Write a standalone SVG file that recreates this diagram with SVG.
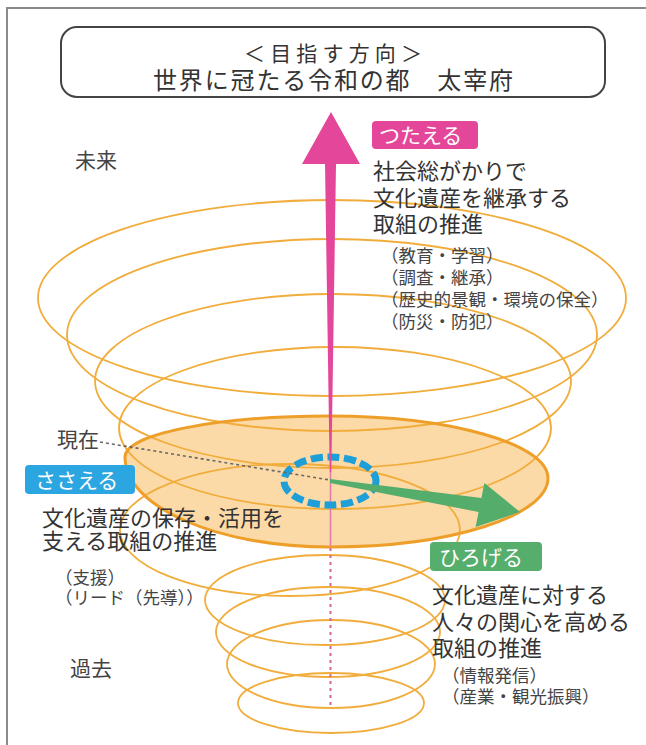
<svg xmlns="http://www.w3.org/2000/svg" width="646" height="745" viewBox="0 0 646 745">
<style>
.bg{fill:#ffffff}
.frame{fill:none;stroke:#8a8a8a;stroke-width:2}
.sp{fill:none;stroke:#f1ad3c;stroke-width:1.8}
.discfill{fill:#fcdaa8;stroke:none}
.discline{fill:none;stroke:#ee9f2a;stroke-width:3}
.t{font-family:"Noto Sans CJK JP","Noto Sans CJK SC",sans-serif;fill:#333}
.main{font-size:22px}
.sub{font-size:17.5px;fill:#444}
.era{font-family:"Noto Sans CJK JP",sans-serif;font-size:21px;fill:#444}
.lab{font-family:"Noto Sans CJK JP",sans-serif;font-size:21px;fill:#ffffff}
</style>
<rect class="bg" x="0" y="0" width="646" height="745"/>
<path class="frame" d="M7,745 L7,8 L646,8"/>

<g id="title">
  <rect x="61" y="27" width="544" height="70" rx="16" ry="16" fill="#fff" stroke="#444" stroke-width="2"/>
  <text class="t" x="333" y="61" font-size="21" text-anchor="middle" textLength="178" lengthAdjust="spacing">＜目指す方向＞</text>
  <text class="t" x="333" y="89" font-size="24" text-anchor="middle" textLength="360" lengthAdjust="spacing">世界に冠たる令和の都　太宰府</text>
</g>

<g id="spiral">
  <path id="disc-fill" class="discfill" d="M125,457 C125,434 217,416 330,416 C450,416 548,444 548,478 C548,516 450,547 330,547 C217,547 125,507 125,457 Z"/>
  <ellipse class="sp" cx="332" cy="298" rx="294" ry="98"/>
  <ellipse class="sp" cx="332" cy="335" rx="265" ry="96"/>
  <ellipse class="sp" cx="333" cy="381" rx="238" ry="87"/>
  <ellipse class="sp" cx="335" cy="428" rx="216" ry="81"/>
  <ellipse class="sp" cx="290" cy="530" rx="170" ry="66"/>
  <ellipse class="sp" cx="325" cy="600" rx="120" ry="45"/>
  <ellipse class="sp" cx="328" cy="632" rx="112" ry="45"/>
  <ellipse class="sp" cx="331" cy="664" rx="104" ry="44"/>
  <ellipse class="sp" cx="331" cy="703" rx="93" ry="30"/>
  <path id="disc-rim" class="discline" d="M125,457 C125,434 217,416 330,416 C450,416 548,444 548,478 C548,516 450,547 330,547 C217,547 125,507 125,457 Z"/>
</g>

<g id="connectors">
  <line x1="330.5" y1="472" x2="330.5" y2="546" stroke="#e07aa9" stroke-width="1.5"/>
  <line x1="330.5" y1="548" x2="330.5" y2="706" stroke="#d5649e" stroke-width="2" stroke-dasharray="3 4"/>
  <ellipse id="now-ring" cx="330" cy="481" rx="46" ry="24" fill="none" stroke="#1e9fd8" stroke-width="7" stroke-dasharray="12 4.6"/>
  <line x1="100" y1="442" x2="330" y2="480" stroke="#666" stroke-width="1.6" stroke-dasharray="3 3"/>
  <path id="arrow-up" d="M331,112 L360,164 L336,164 L331.3,472 L329.7,472 L325,164 L302,164 Z" fill="#e4479a"/>
  <path id="arrow-right" d="M330,479 L481.4,498 L484.4,483 L520,512 L475.6,527 L478.6,512 L330,483 Z" fill="#55ad6b"/>
</g>

<g id="era-future"><text class="era" x="75" y="168">未来</text></g>
<g id="era-now"><text class="era" x="57" y="447" font-size="19">現在</text></g>
<g id="era-past"><text class="era" x="70" y="676">過去</text></g>

<g id="tsutaeru">
  <rect x="372" y="121" width="106" height="28" rx="4" fill="#e4479a"/>
  <text class="lab" x="379" y="143">つたえる</text>
  <text class="t main" x="373" y="179">社会総がかりで</text>
  <text class="t main" x="373" y="206">文化遺産を継承する</text>
  <text class="t main" x="373" y="232">取組の推進</text>
  <text class="t sub" x="381" y="262">（教育・学習）</text>
  <text class="t sub" x="381" y="284">（調査・継承）</text>
  <text class="t sub" x="381" y="306" font-size="18.5">（歴史的景観・環境の保全）</text>
  <text class="t sub" x="381" y="328">（防災・防犯）</text>
</g>

<g id="sasaeru">
  <rect x="25" y="465" width="110" height="29" rx="4" fill="#2ca6e0"/>
  <text class="lab" x="35" y="488" font-size="22">ささえる</text>
  <text class="t main" x="42" y="526">文化遺産の保存・活用を</text>
  <text class="t main" x="42" y="549">支える取組の推進</text>
  <text class="t sub" x="55" y="584">（支援）</text>
  <text class="t sub" x="55" y="604">（リード（先導））</text>
</g>

<g id="hirogeru">
  <rect x="430" y="542" width="112" height="29" rx="4" fill="#56ae6c"/>
  <text class="lab" x="439" y="565" font-size="22">ひろげる</text>
  <text class="t main" x="432" y="603">文化遺産に対する</text>
  <text class="t main" x="432" y="630">人々の関心を高める</text>
  <text class="t main" x="432" y="656">取組の推進</text>
  <text class="t sub" x="442" y="682">（情報発信）</text>
  <text class="t sub" x="442" y="703" font-size="18">（産業・観光振興）</text>
</g>
</svg>
